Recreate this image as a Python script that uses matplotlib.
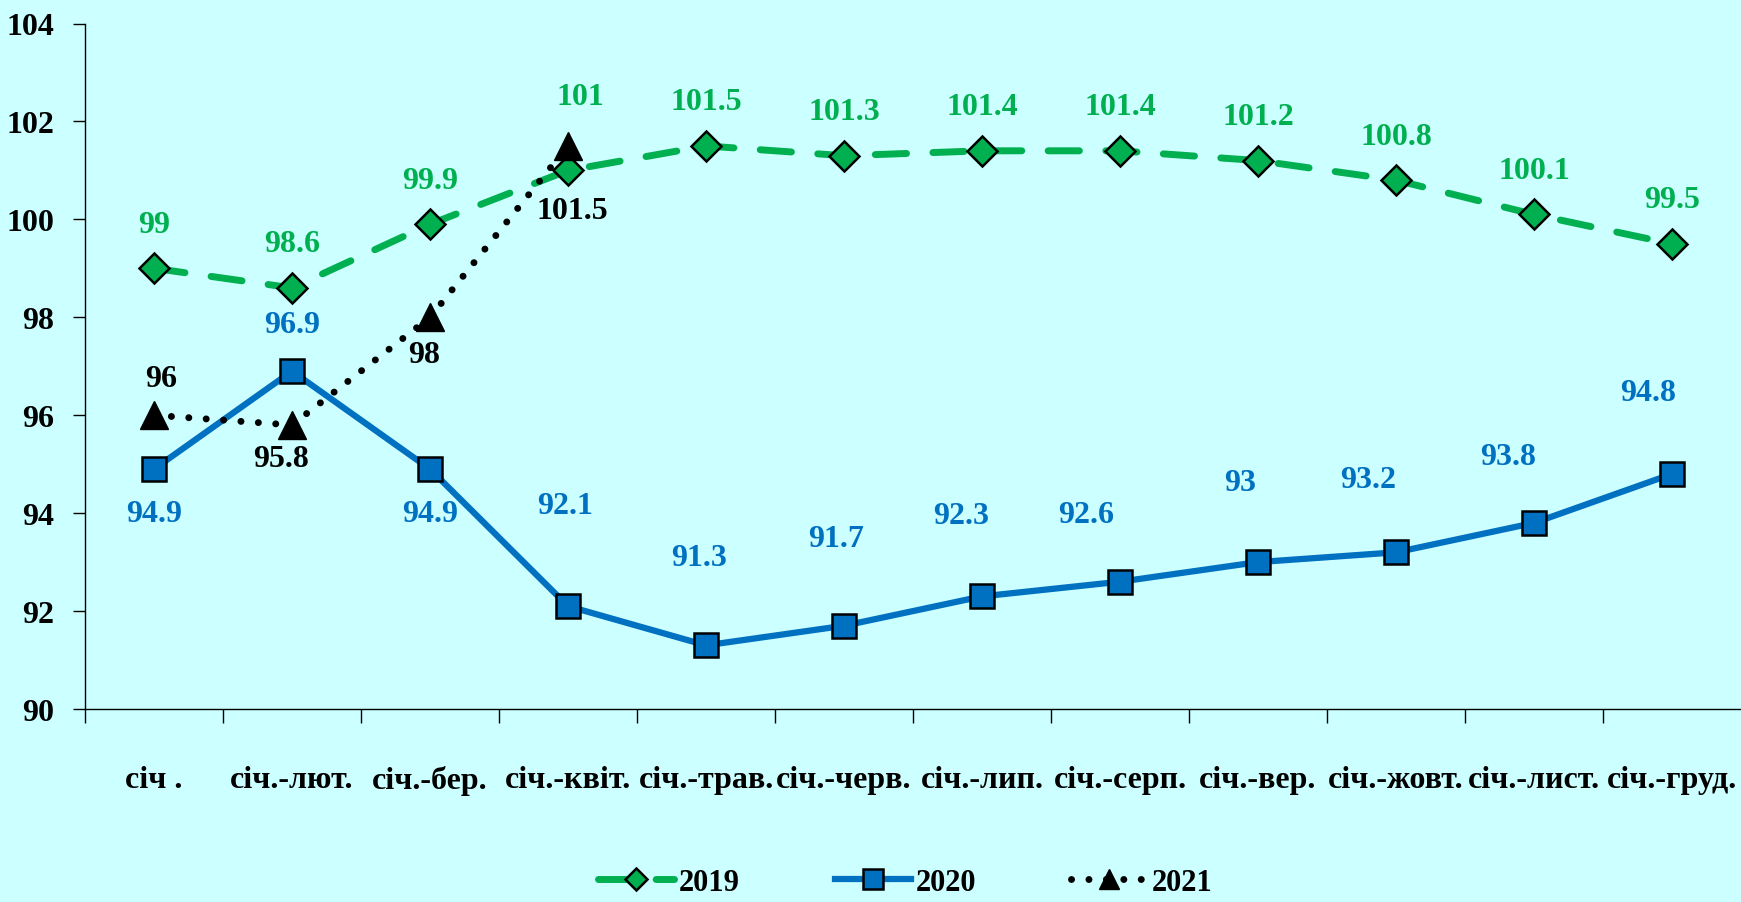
import matplotlib.pyplot as plt

plt.rcParams['font.family'] = ['Liberation Serif', 'DejaVu Serif']
plt.rcParams['font.weight'] = 'bold'

months = ["січ .", "січ.-лют.", "січ.-бер.", "січ.-квіт.", "січ.-трав.", "січ.-черв.",
          "січ.-лип.", "січ.-серп.", "січ.-вер.", "січ.-жовт.", "січ.-лист.", "січ.-груд."]
v2019 = [99, 98.6, 99.9, 101, 101.5, 101.3, 101.4, 101.4, 101.2, 100.8, 100.1, 99.5]
v2020 = [94.9, 96.9, 94.9, 92.1, 91.3, 91.7, 92.3, 92.6, 93, 93.2, 93.8, 94.8]
v2021 = [96, 95.8, 98, 101.5]

green = "#00B050"
blue = "#0070C0"
bg = "#CCFFFF"

# label offsets in pixels (dx, dy)
off2019 = [(0, 44)] * 3 + [(12, 74)] + [(0, 44)] * 8
off2020 = [(0, -44), (0, 47), (0, -44), (-3, 101), (-7, 88), (-8, 87),
           (-21, 81), (-34, 67), (-18, 80), (-28, 73), (-26, 66), (-24, 81)]
off2021 = [(7, 37), (-11, -33), (-6, -37), (4, -65)]

fig = plt.figure(figsize=(17.41, 9.03), dpi=100, facecolor=bg)
ax = fig.add_axes([85 / 1741, 1 - 710 / 903, 1 - 85 / 1741, (710 - 24.5) / 903])
ax.set_facecolor(bg)

x = list(range(len(months)))
ax.plot(x, v2019, color=green, lw=5, linestyle=(0, (4.5, 3.8)), dash_capstyle='round',
        marker='D', ms=15, mfc=green, mec='black', mew=1.8, label="2019", zorder=3)
ax.plot(x, v2020, color=blue, lw=4.5, marker='s', ms=17, mfc=blue, mec='black', mew=1.8,
        label="2020", zorder=3)
ax.plot(x[:len(v2021)], v2021, color='black', lw=5, linestyle=(0, (0.01, 2.5)),
        dash_capstyle='round', marker='^', ms=20, mfc='black', mec='black',
        label="2021", zorder=4)

for xs, vals, offs, col in [(x, v2019, off2019, green), (x, v2020, off2020, blue),
                            (x[:len(v2021)], v2021, off2021, 'black')]:
    for xi, v, o in zip(xs, vals, offs):
        ax.annotate(f"{v:g}", (xi, v), xytext=o, textcoords='offset pixels',
                    ha='center', va='center', color=col, fontsize=23, fontweight='bold')

ax.set_xlim(-0.5, 11.5)
ax.set_ylim(90, 104)
ax.set_yticks(range(90, 105, 2))
ax.set_xticks([i - 0.5 for i in range(12)])
ax.set_xticklabels([])
ax.set_xticks(x, minor=True)
ax.set_xticklabels(months, minor=True, fontsize=23, fontweight='bold')
ax.tick_params(axis='x', which='major', length=10, width=1)
ax.tick_params(axis='x', which='minor', length=0, pad=40)
ax.tick_params(axis='y', length=9, width=1, labelsize=23, pad=13)
for lab in ax.get_yticklabels():
    lab.set_fontweight('bold')
for s in ['top', 'right']:
    ax.spines[s].set_visible(False)
for s in ['left', 'bottom']:
    ax.spines[s].set_linewidth(1)

leg = fig.legend(loc='center', bbox_to_anchor=(0.52, 0.022), ncol=3, frameon=False,
                 handlelength=2.5, handletextpad=0.15, columnspacing=3.1,
                 prop={'weight': 'bold', 'size': 22})
for h, ms in zip(leg.legend_handles, [11, 14, 14]):
    h.set_markersize(ms)

fig.savefig("out.png", dpi=100, facecolor=bg)
